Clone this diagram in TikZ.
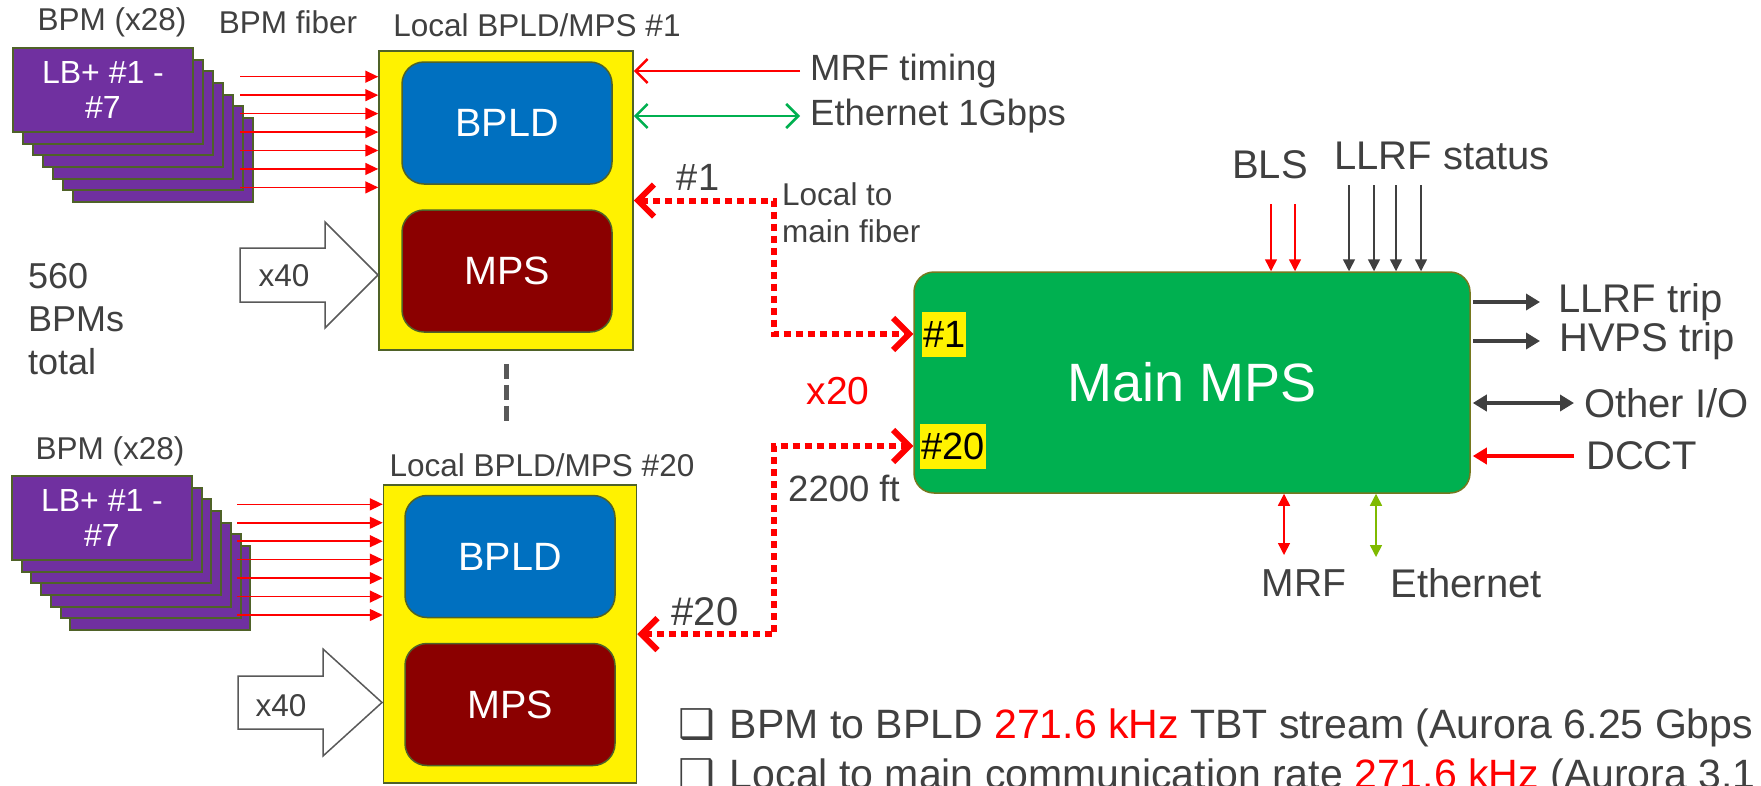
\documentclass[tikz,border=0pt]{standalone}
\usepackage{fontspec}
\setmainfont{Liberation Sans}
\newfontfamily\symfont{DejaVu Sans}
\usetikzlibrary{arrows.meta,positioning}

\definecolor{txtgray}{HTML}{404040}
\definecolor{cardfill}{HTML}{7030A0}
\definecolor{edgegreen}{HTML}{4F6228}
\definecolor{bpldblue}{HTML}{0070C0}
\definecolor{mpsred}{HTML}{8B0000}
\definecolor{mainfill}{HTML}{00B050}
\definecolor{mainedge}{HTML}{76781E}
\definecolor{ethgreen}{HTML}{00B050}
\definecolor{ethlime}{HTML}{7FBA00}
\definecolor{fiberred}{HTML}{FF0000}
\newcommand{\fsz}[2]{\fontsize{#1pt}{#2pt}\selectfont}

\begin{document}
\begin{tikzpicture}[
  x=1pt, y=-1pt,
  lbl/.style={text=txtgray, inner sep=0pt, font=\fsz{31.5}{37}},
  card/.style={rectangle, draw=edgegreen, fill=cardfill, line width=2pt,
               minimum width=180pt, minimum height=84pt, inner sep=0pt},
  yelbox/.style={rectangle, draw=edgegreen, fill=yellow, line width=1.5pt},
  inbox/.style={rectangle, draw=edgegreen, line width=1.5pt, rounded corners=22pt,
                minimum width=210pt, minimum height=122pt, text=white, font=\fsz{39.5}{47}},
  bpld/.style={inbox, fill=bpldblue},
  mps/.style={inbox, fill=mpsred},
  mainbox/.style={rectangle, draw=mainedge, fill=mainfill, line width=1.5pt,
                  rounded corners=20pt, minimum width=556pt, minimum height=221pt,
                  text=white, font=\fsz{54}{64}},
  hashtag/.style={fill=yellow, text=black, font=\fsz{38}{45}, inner xsep=1pt,
                  inner ysep=0pt, minimum height=45pt},
  bigarr/.style={draw=black!65, fill=white, line width=1.5pt},
  gapline/.style={draw=black!65, line width=5pt, dash pattern=on 15pt off 6pt},
  feed/.style={draw=fiberred, line width=1.5pt, -{Triangle[length=13pt,width=12pt]}},
  timearr/.style={draw=fiberred, line width=2.5pt, -{Straight Barb[length=12pt,width=24pt]}},
  etharr/.style={draw=ethgreen, line width=2.5pt,
                 {Straight Barb[length=12pt,width=24pt]}-{Straight Barb[length=12pt,width=24pt]}},
  fiber/.style={draw=fiberred, line width=6pt, dash pattern=on 7pt off 5pt,
                {Straight Barb[length=16pt,width=32pt]}-{Straight Barb[length=16pt,width=32pt]}},
  stat/.style={line width=1.5pt, -{Triangle[length=12pt,width=12pt]}},
  statboth/.style={line width=1.5pt, {Triangle[length=12pt,width=12pt]}-{Triangle[length=12pt,width=12pt]}},
  outarr/.style={draw=txtgray, line width=4pt, -{Triangle[length=14pt,width=16pt]}}
]
  \path[use as bounding box, fill=white] (0,0) rectangle (1761,785);

  % local unit #1
  \foreach \k in {6,...,1} \node[card] at (103+10*\k, 90+11.67*\k) {};
  \node[card, text=white, align=center, font=\fsz{32}{35}] (lbA) at (103,90) {LB+ \#1 -\\\#7};
  \node[lbl] (bpmA) at (112,22) {BPM (x28)};
  \node[lbl] (fibA) at (288,22) {BPM fiber};
  \node[lbl] (locA) at (537,25) {Local BPLD/MPS \#1};
  \node[yelbox, minimum width=254pt, minimum height=299pt] (yelA) at (506,200.5) {};
  \node[bpld] (bpldA) at (507,123) {BPLD};
  \node[mps] (mpsA) at (507,271) {MPS};
  \foreach \k [evaluate=\k as \yy using 76.7+18.45*\k] in {0,...,6}
    \draw[feed] (240,\yy) -- (240,\yy -| yelA.west);
  \draw[bigarr] (240,248) -- (325,248) -- (325,222) -- (378,275) -- (325,328) -- (325,302) -- (240,302) -- cycle;
  \node[lbl] (xA) at (284,276) {x40};
  \node[lbl, align=left, anchor=west, font=\fsz{36}{43}] (tot) at (28,319) {560\\BPMs\\total};
  \draw[gapline] ([yshift=-13pt]yelA.south) -- ++(0,57);

  % local unit #20
  \foreach \k in {6,...,1} \node[card] at (102+9.7*\k, 518+11.67*\k) {};
  \node[card, text=white, align=center, font=\fsz{32}{35}] (lbB) at (102,518) {LB+ \#1 -\\\#7};
  \node[lbl] (bpmB) at (110,451) {BPM (x28)};
  \node[lbl] (locB) at (542,465) {Local BPLD/MPS \#20};
  \node[yelbox, minimum width=253pt, minimum height=298pt] (yelB) at (510,634) {};
  \node[bpld] (bpldB) at (510,556.5) {BPLD};
  \node[mps] (mpsB) at (510,704.5) {MPS};
  \foreach \k [evaluate=\k as \yy using 504.3+18.45*\k] in {0,...,6}
    \draw[feed] (237,\yy) -- (237,\yy -| yelB.west);
  \draw[bigarr] (238,676) -- (323,676) -- (323,649) -- (382,702.5) -- (323,756) -- (323,729) -- (238,729) -- cycle;
  \node[lbl] (xB) at (281,706) {x40};

  % links of unit #1
  \node[lbl, anchor=west, font=\fsz{36.5}{44}] (tim) at (810,71) {MRF timing};
  \node[lbl, anchor=west, font=\fsz{36.5}{44}] (ethA) at (810,116) {Ethernet 1Gbps};
  \draw[timearr] ([xshift=-10pt]tim.west) -- (yelA.east |- tim.west);
  \draw[etharr] (yelA.east |- ethA.west) -- ([xshift=-10pt]ethA.west);

  % main MPS
  \node[mainbox] (main) at (1192,382.5) {Main MPS};
  \node[hashtag, anchor=west] (tagA) at (922,334) {\#1};
  \node[hashtag, anchor=west] (tagB) at (920,446) {\#20};

  \node[lbl, font=\fsz{38}{45}] (hA) at (698,177) {\#1};
  \node[lbl, align=left, anchor=west] (lmf) at (782,213) {Local to\\main fiber};
  \node[lbl, text=fiberred, font=\fsz{39}{46}] (cnt) at (838,391) {x20};
  \node[lbl, anchor=west, font=\fsz{36.5}{44}] (len) at (788,488) {2200 ft};
  \node[lbl, font=\fsz{40}{48}] (hB) at (705,612) {\#20};
  \draw[fiber] (yelA.east) -- ++(140,0) |- (main.west |- tagA.west);
  \draw[fiber] (yelB.east) -- ++(137,0) |- (main.west |- tagB.west);

  % inputs and outputs of main MPS
  \node[lbl, font=\fsz{40}{48}] (bls) at (1270,165) {BLS};
  \node[lbl, font=\fsz{40}{48}] (llrfs) at (1442,156) {LLRF status};
  \foreach \xx in {1271,1295} \draw[stat, draw=fiberred] (\xx,204) -- (\xx,204 |- main.north);
  \foreach \xx in {1349,1374,1396,1421} \draw[stat, draw=txtgray] (\xx,185) -- (\xx,185 |- main.north);

  \node[lbl, anchor=west, font=\fsz{40}{48}] (ltrip) at (1558,302) {LLRF trip};
  \node[lbl, anchor=west, font=\fsz{40}{48}] (htrip) at (1559,341) {HVPS trip};
  \node[lbl, anchor=west, font=\fsz{40}{48}] (oio) at (1584,403) {Other I/O};
  \node[lbl, anchor=west, font=\fsz{40}{48}] (dcct) at (1586,456) {DCCT};
  \draw[outarr, shorten <=2pt] (main.east |- ltrip.west) -- ([xshift=-18pt]ltrip.west);
  \draw[outarr, shorten <=2pt] (main.east |- htrip.west) -- ([xshift=-19pt]htrip.west);
  \draw[outarr, {Triangle[length=14pt,width=16pt]}-{Triangle[length=14pt,width=16pt]}, shorten <=2pt]
    (main.east |- oio.west) -- ([xshift=-10pt]oio.west);
  \draw[outarr, draw=fiberred, shorten >=2pt] ([xshift=-12pt]dcct.west) -- (main.east |- dcct.west);

  \node[lbl, font=\fsz{39}{47}] (mrf) at (1304,583) {MRF};
  \node[lbl, font=\fsz{40}{48}] (eth) at (1466,583) {Ethernet};
  \draw[statboth, draw=fiberred] (1284,555) -- (1284,555 |- main.south);
  \draw[statboth, draw=ethlime] (1376,557) -- (1376,557 |- main.south);

  % notes
  \node[lbl, anchor=west, font=\fsz{41}{48}] (noteA) at (678,728)
    {{\symfont ❑}\hspace{15pt}BPM to BPLD \textcolor{fiberred}{271.6 kHz} TBT stream (Aurora 6.25 Gbps};
  \node[lbl, anchor=west, font=\fsz{41}{48}] (noteB) at (678,778)
    {{\symfont ❑}\hspace{15pt}Local to main communication rate \textcolor{fiberred}{271.6 kHz} (Aurora 3.1};
\end{tikzpicture}
\end{document}
